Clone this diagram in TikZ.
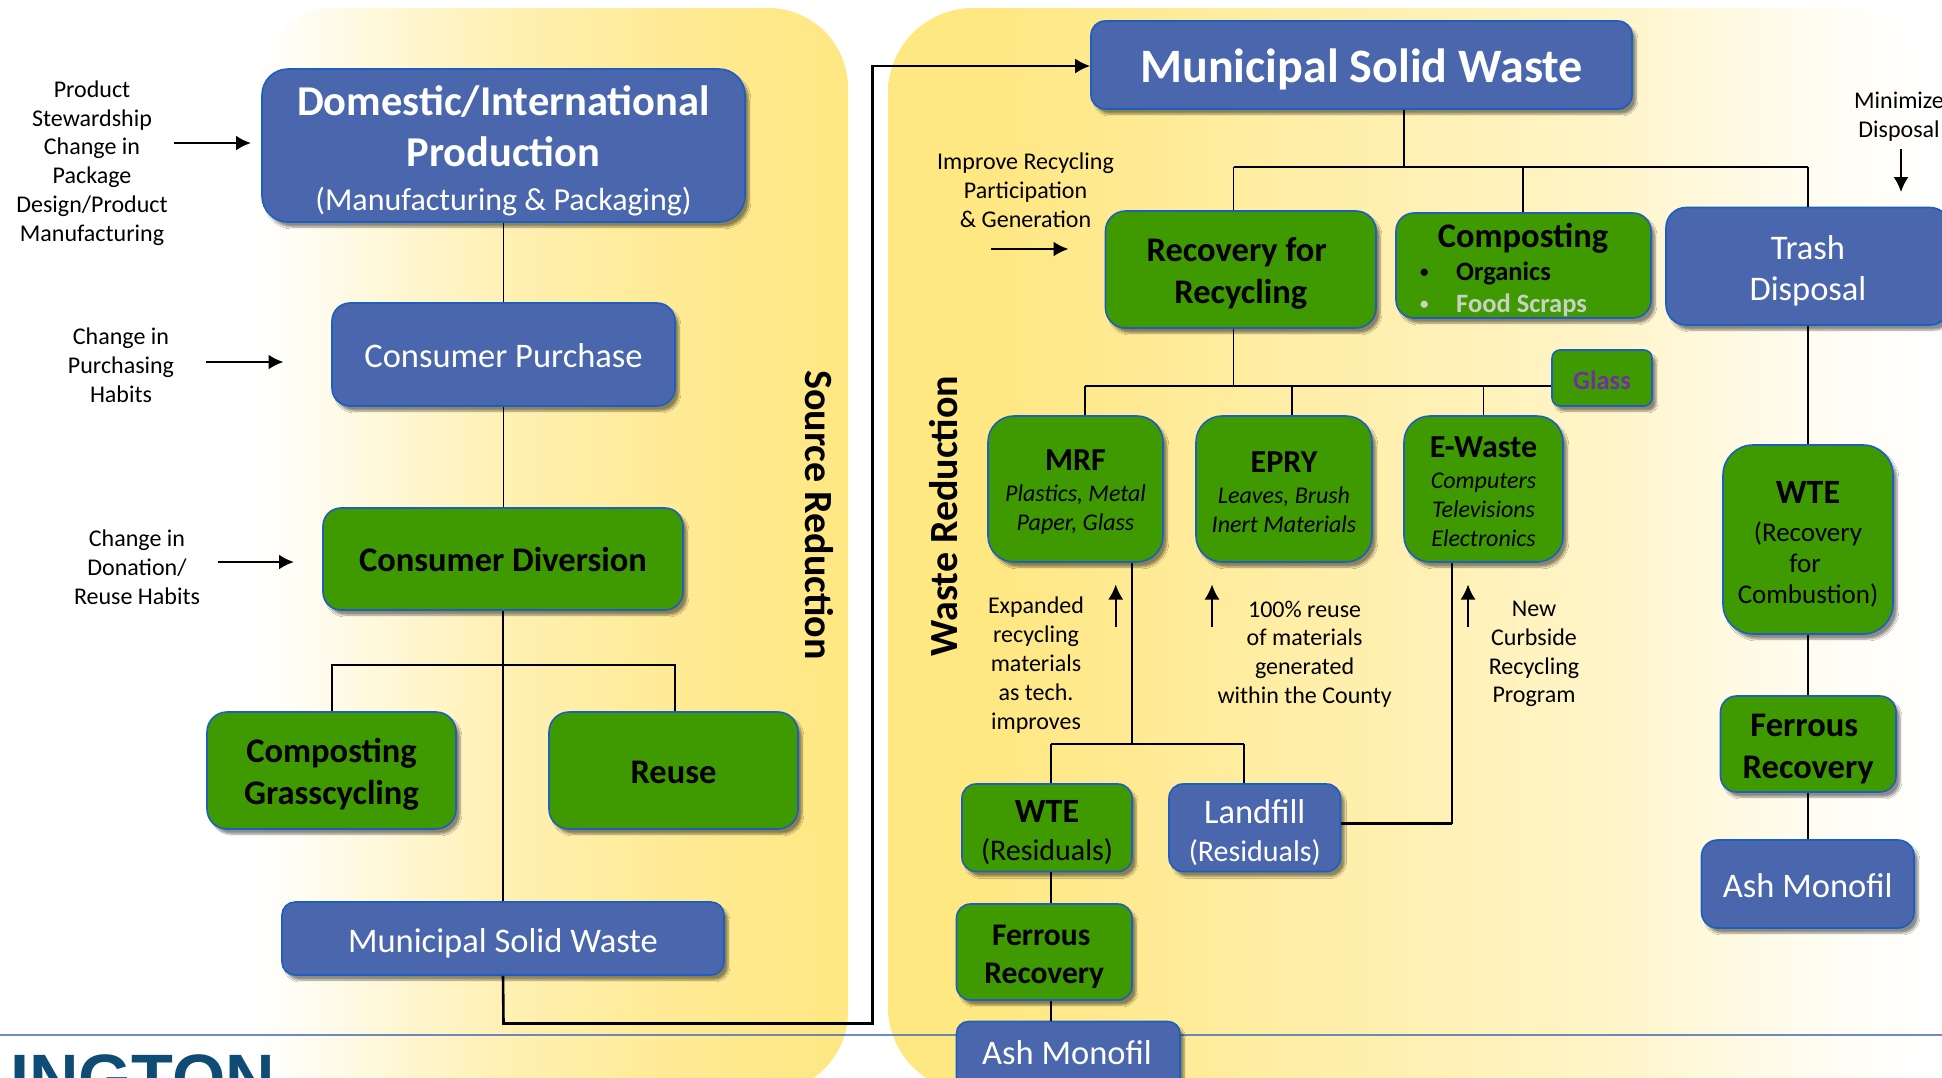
\documentclass[tikz,border=0pt]{standalone}
\usepackage{fontspec}
\setmainfont{Carlito}
\newfontfamily\logofont{Liberation Sans}
\usetikzlibrary{arrows.meta,shadows.blur}
\definecolor{panelc}{HTML}{FFE782}
\definecolor{boxblue}{HTML}{4A66AC}
\definecolor{boxgreen}{HTML}{3F9900}
\definecolor{boxline}{HTML}{1C5FC0}
\definecolor{rulec}{HTML}{4A6DB8}
\definecolor{logoc}{HTML}{0F4C75}
\definecolor{glassc}{HTML}{7030A0}
\definecolor{foodc}{HTML}{C9D2C2}
\pgfdeclarehorizontalshading{lpanel}{100bp}{color(0bp)=(white); color(25bp)=(white); color(29bp)=(panelc!10!white); color(45bp)=(panelc!58!white); color(58bp)=(panelc!82!white); color(70bp)=(panelc!96!white); color(75bp)=(panelc); color(100bp)=(panelc)}
\pgfdeclarehorizontalshading{rpanel}{100bp}{color(0bp)=(panelc); color(30bp)=(panelc); color(45bp)=(panelc!70!white); color(59bp)=(panelc!45!white); color(69bp)=(panelc!12!white); color(75bp)=(white); color(100bp)=(white)}
\newcommand\fz[2]{\fontsize{#1}{#2}\selectfont}
\newcommand\bx[8]{%
  \pgfmathsetmacro\bxw{#4-#2}\pgfmathsetmacro\bxh{#5-#3}%
  \pgfmathsetmacro\bxx{(#4+#2)/2}\pgfmathsetmacro\bxy{(#5+#3)/2}%
  \node[#6,minimum width=\bxw pt,minimum height=\bxh pt] (#1) at (\bxx,\bxy) {\parbox{\bxw pt}{\vspace*{#8pt}\centering #7\par}};}
\newcommand\hb{\fz{34.5}{42}\bfseries}
\newcommand\hm{\fz{34.5}{41}}
\newcommand\sub{\fz{24}{29}\itshape}
\tikzset{
  basebox/.style={draw=boxline,line width=1.6pt,inner sep=0pt,
    blur shadow={shadow xshift=4pt,shadow yshift=-5pt,shadow blur steps=6,shadow opacity=45}},
  bluebox/.style={basebox,fill=boxblue,text=white,rounded corners=#1},
  greenbox/.style={basebox,fill=boxgreen,text=black,rounded corners=#1},
  lbl/.style={align=center,inner sep=0pt,text=black,font=\fz{24}{28.8}},
  conn/.style={draw=black,line width=1.4pt},
  heavy/.style={draw=black,line width=2.6pt},
  arr/.style={draw=black,line width=2.4pt,-{Latex[length=15pt,width=15pt]}},
  sidetitle/.style={inner sep=0pt,font=\fz{40}{50}\bfseries}
}
\begin{document}
\begin{tikzpicture}[x=1pt,y=-1pt]
\useasboundingbox (0,0) rectangle (1942,1077);
\clip (0,0) rectangle (1942,1077);
% panels
\shade[shading=lpanel,rounded corners=80pt] (255,8) rectangle (848,1092);
\shade[shading=rpanel,rounded corners=85pt] (888,8) rectangle (1930,1092);
% rule
\coordinate (ruleL) at (0,1035);
\coordinate (ruleR) at (1942,1035);
\draw[rulec,line width=1.2pt,opacity=.8] (ruleL) -- (ruleR);
% logo
\node[anchor=base west,inner sep=0pt,text=logoc,font=\logofont\fz{68.5}{70}\bfseries] (logo) at (10,1102) {INGTON};
% left column
\bx{dom}{262}{69}{745}{222}{bluebox=26pt}{\fz{42.5}{51}\bfseries Domestic/International\par Production\par\fz{32}{44}\mdseries (Manufacturing \& Packaging)}{10}
\bx{pur}{332}{303}{675}{406}{bluebox=18pt}{\hm Consumer Purchase}{3}
\bx{div}{323}{508}{683}{610}{greenbox=18pt}{\hb Consumer Diversion}{1}
\bx{cmp}{207}{712}{456}{829}{greenbox=20pt}{\hb Composting\par Grasscycling}{8}
\bx{reu}{549}{712}{798}{829}{greenbox=20pt}{\hb Reuse}{4}
\bx{msw}{282}{902}{724}{975}{bluebox=13pt}{\hm Municipal Solid Waste}{10}
% left labels
\node[lbl] (l1) at (92,163) {Product\\Stewardship\\Change in\\Package\\Design/Product\\Manufacturing};
\node[lbl] (l2) at (121,365) {Change in\\Purchasing\\Habits};
\node[lbl] (l3) at (137,567) {Change in\\Donation/\\Reuse Habits};
\node[sidetitle,rotate=-90] (srcred) at (819,515) {Source Reduction};
\node[sidetitle,rotate=90] (wstred) at (944,516) {Waste Reduction};
% right column
\bx{big}{1091}{21}{1632}{109}{bluebox=14pt}{\fz{48}{52}\bfseries Municipal Solid Waste}{8}
\bx{rec}{1105.5}{211}{1376}{328}{greenbox=20pt}{\hb \hspace*{-8pt}Recovery for\par Recycling}{8}
\bx{cps}{1396}{213}{1651}{318}{greenbox=18pt}{}{0}
\node[inner sep=0pt,font=\hb] (cpst) at (1523,238.5) {Composting};
\node[anchor=west,inner sep=0pt,font=\fz{26.5}{30}\bfseries] (cpsa) at (1420,273) {\makebox[36pt][l]{\raisebox{3pt}{\fz{17}{17}•}}Organics};
\node[anchor=west,inner sep=0pt,text=foodc,font=\fz{26.5}{30}\bfseries] (cpsb) at (1420,305) {\makebox[36pt][l]{\raisebox{3pt}{\fz{17}{17}•}}Food Scraps};
\bx{tra}{1666}{207.5}{1950}{325}{bluebox=20pt}{\hm Trash\par Disposal}{10}
\bx{gla}{1552}{350}{1652}{406}{greenbox=8pt}{\fz{26.5}{30}\bfseries\textcolor{glassc}{Glass}}{5}
\bx{mrf}{988}{416}{1163}{562}{greenbox=26pt}{\fz{32}{40}\bfseries MRF\par\fz{24}{31}\mdseries\itshape Plastics, Metal\par\sub Paper, Glass}{6}
\bx{epr}{1196}{416}{1372}{562}{greenbox=26pt}{\fz{32}{40}\bfseries EPRY\par\fz{24}{31}\mdseries\itshape Leaves, Brush\par\sub Inert Materials}{6}
\bx{ewa}{1404}{416}{1563}{562}{greenbox=26pt}{\fz{32}{38}\bfseries E-Waste\par\fz{24}{31}\mdseries\itshape Computers\par\sub Televisions\par Electronics}{6}
\bx{wtr}{1723}{445}{1893}{634}{greenbox=30pt}{\fz{34}{40}\bfseries WTE\par\fz{27}{38}\mdseries (Recovery\par\fz{27}{31}\hspace*{-6pt}for\par Combustion)}{10}
\bx{fer}{1720.5}{696}{1896}{792}{greenbox=16pt}{\hb \hspace*{-8pt}Ferrous\par Recovery}{10}
\bx{asr}{1701.5}{840}{1914}{928}{bluebox=16pt}{\hm Ash Monofil}{4}
\bx{wte}{962}{784}{1132}{871.5}{greenbox=14pt}{\fz{34}{38}\bfseries WTE\par\fz{30}{38}\mdseries (Residuals)}{10}
\bx{lan}{1169}{784}{1340.5}{871.5}{bluebox=14pt}{\fz{34.5}{38}Landfill\par\fz{30}{38}(Residuals)}{10}
\bx{fel}{956.5}{904}{1132}{1000}{greenbox=14pt}{\fz{31.5}{38}\bfseries \hspace*{-6pt}Ferrous\par Recovery}{10}
\bx{asl}{956.5}{1021.5}{1180}{1100}{bluebox=12pt}{}{0}
\node[inner sep=0pt,text=white,font=\hm] (aslt) at (1067,1053) {Ash Monofil};
% right labels
\node[lbl] (l4) at (1025.5,190) {Improve Recycling\\Participation\\\& Generation};
\node[lbl] (l5) at (1899,117) {Minimize\\Disposal};
\node[lbl] (l6) at (1036,665) {Expanded\\recycling\\materials\\as tech.\\improves};
\node[lbl] (l7) at (1304.6,654) {100\% reuse\\of materials\\generated\\within the County};
\node[lbl] (l8) at (1534,654) {New\\Curbside\\Recycling\\Program};
% junctions
\coordinate (j1) at (503.5,665);
\coordinate (j1a) at (332,665);
\coordinate (j1b) at (675,665);
\coordinate (j2) at (503.5,1023.5);
\coordinate (j3) at (872.5,1023.5);
\coordinate (j4) at (872.5,66);
\coordinate (j5) at (1404,167);
\coordinate (j5a) at (1233.5,167);
\coordinate (j5b) at (1523,167);
\coordinate (j5c) at (1808,167);
\coordinate (j6) at (1233.5,386);
\coordinate (j6a) at (1085,386);
\coordinate (j6b) at (1292,386);
\coordinate (j6c) at (1483.5,386);
\coordinate (j7) at (1132,744);
\coordinate (j7a) at (1051,744);
\coordinate (j7b) at (1244,744);
\coordinate (j8) at (1451.6,823.6);
% connectors left
\draw[conn] (dom.south) -- (dom.south |- pur.north);
\draw[conn] (pur.south) -- (pur.south |- div.north);
\draw[conn] (div.south) -- (div.south |- msw.north);
\draw[heavy] (j1a |- cmp.north) -- (j1a) -- (j1b) -- (j1b |- reu.north);
\draw[heavy] (msw.south) -- (j2) -- (j3) -- (j4);
\draw[arr,line cap=rect] (j4) -- (j4 -| big.west);
% connectors right
\draw[conn] (j5 |- big.south) -- (j5);
\draw[heavy,line width=2pt] (j5a) -- (j5c);
\draw[conn] (j5a) -- (j5a |- rec.north);
\draw[conn] (j5b) -- (j5b |- cps.north);
\draw[conn] (j5c) -- (j5c |- tra.north);
\draw[conn,line width=1.8pt] (j5a |- rec.south) -- (j6);
\draw[heavy,line width=2pt] (j6a) -- (j6c);
\draw[conn] (j6c) -- (gla.west |- j6c);
\draw[conn] (j6a) -- (j6a |- mrf.north);
\draw[conn] (j6b) -- (j6b |- epr.north);
\draw[conn] (j6c) -- (j6c |- ewa.north);
\draw[conn] (j5c |- tra.south) -- (j5c |- wtr.north);
\draw[conn] (j5c |- wtr.south) -- (j5c |- fer.north);
\draw[conn] (j5c |- fer.south) -- (j5c |- asr.north);
\draw[conn,line width=1.8pt] (j7 |- mrf.south) -- (j7);
\draw[heavy] (j7a) -- (j7b);
\draw[conn] (j7a) -- (j7a |- wte.north);
\draw[conn] (j7b) -- (j7b |- lan.north);
\draw[conn] (j7a |- wte.south) -- (j7a |- fel.north);
\draw[conn] (j7a |- fel.south) -- (j7a |- asl.north);
\draw[heavy] (j8 -| lan.east) -- (j8);
\draw[conn,line width=1.8pt] (j8) -- (j8 |- ewa.south);
% influence arrows
\coordinate (a1s) at (174,143); \coordinate (a1e) at (251,143);
\coordinate (a2s) at (206,362); \coordinate (a2e) at (283.5,362);
\coordinate (a3s) at (217.5,562); \coordinate (a3e) at (294,562);
\coordinate (a4s) at (991,249); \coordinate (a4e) at (1068.5,249);
\coordinate (a5s) at (1901,149); \coordinate (a5e) at (1901,192);
\coordinate (a6s) at (1115.7,627); \coordinate (a6e) at (1115.7,584.5);
\coordinate (a7s) at (1212,627); \coordinate (a7e) at (1212,584.5);
\coordinate (a8s) at (1468,627); \coordinate (a8e) at (1468,584.5);
\draw[arr] (a1s) -- (a1e);
\draw[arr] (a2s) -- (a2e);
\draw[arr] (a3s) -- (a3e);
\draw[arr] (a4s) -- (a4e);
\draw[arr,line width=1.8pt] (a5s) -- (a5e);
\draw[arr,line width=1.8pt] (a6s) -- (a6e);
\draw[arr,line width=1.8pt] (a7s) -- (a7e);
\draw[arr,line width=1.8pt] (a8s) -- (a8e);
\end{tikzpicture}
\end{document}
